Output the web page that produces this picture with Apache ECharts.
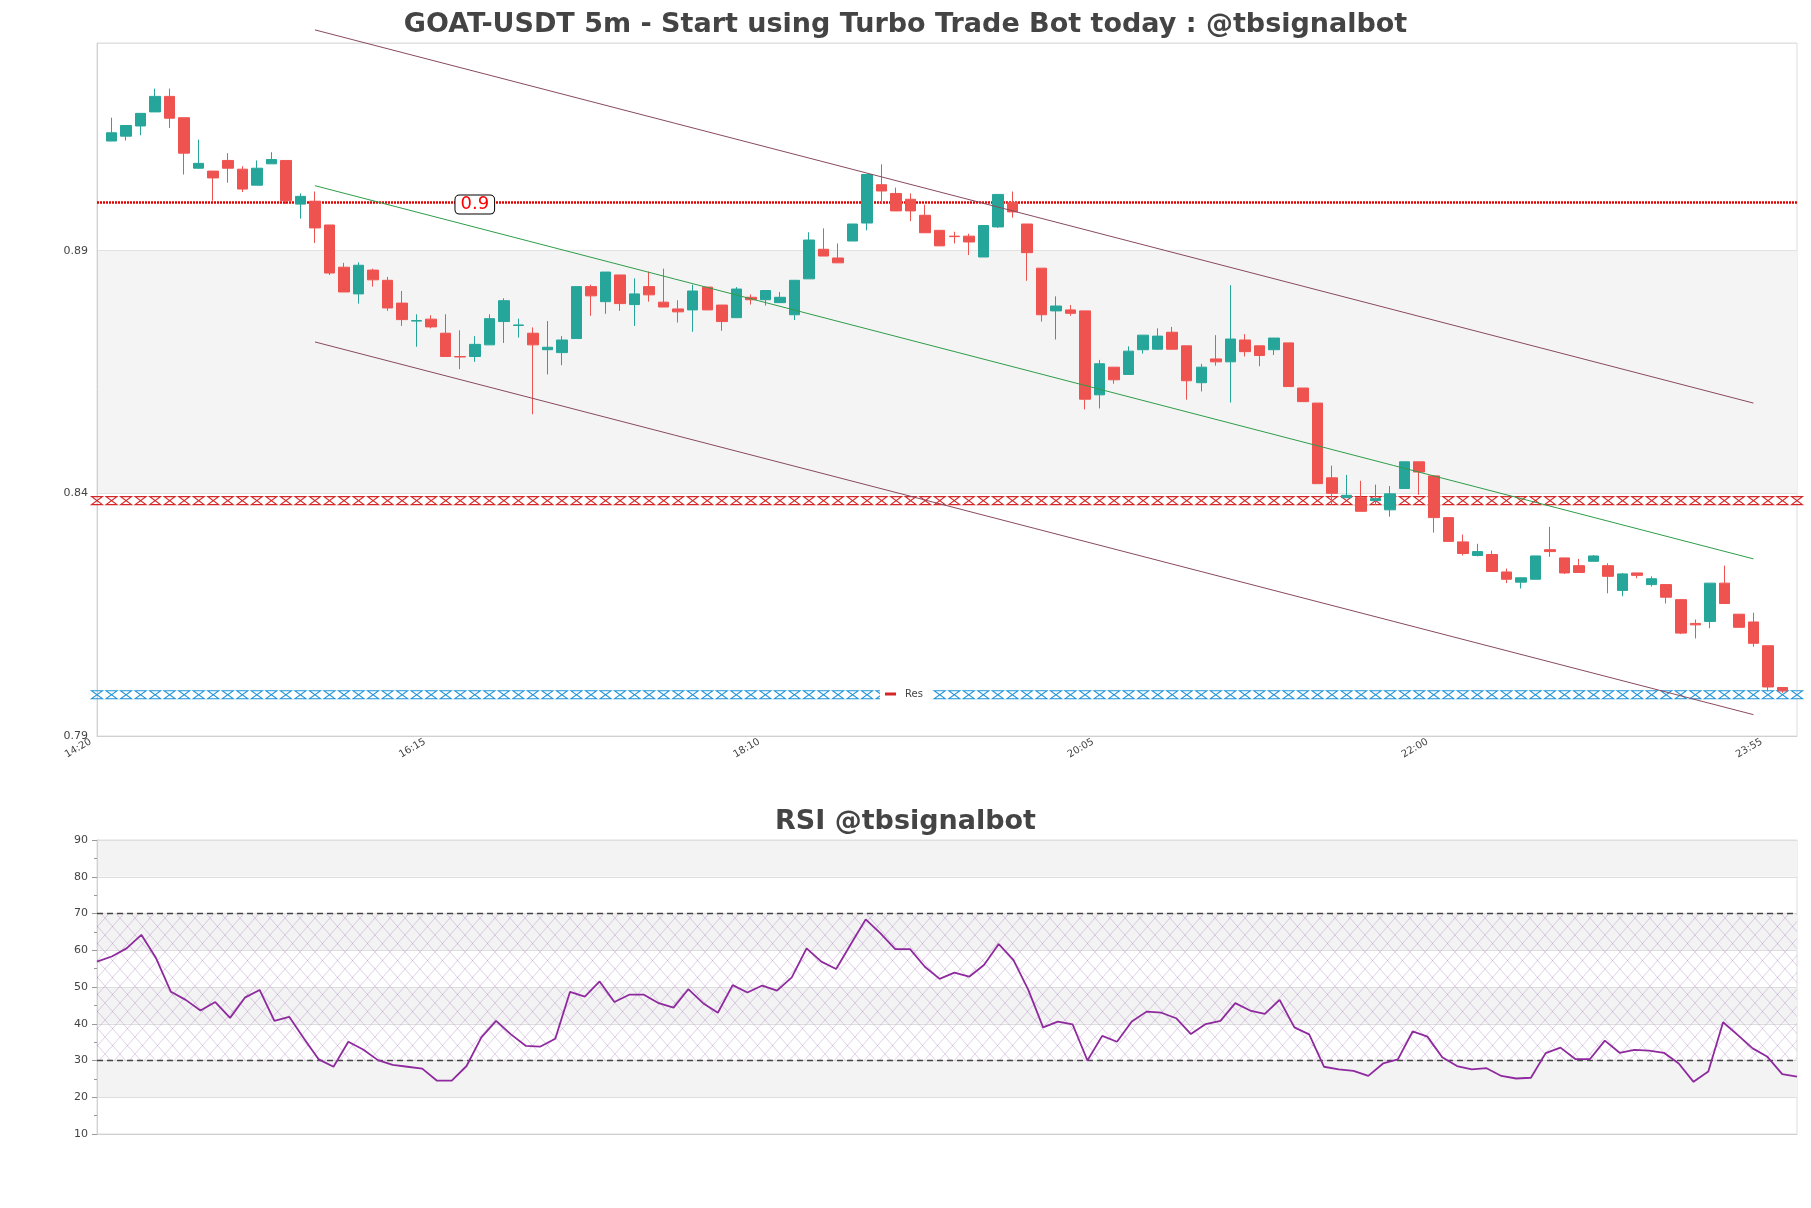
<!DOCTYPE html>
<html>
<head>
<meta charset="utf-8">
<script src="https://cdn.jsdelivr.net/npm/echarts@6/dist/echarts.min.js"></script>
<style>
  html, body { margin: 0; padding: 0; background: #ffffff; }
  #chart { width: 1811px; height: 1208px; }
</style>
</head>
<body>
<div id="chart"></div>
<script>
// ---------------- data ----------------
const startTime = '14:20';
const stepMinutes = 5;
const tickLabels = ['14:20', '16:15', '18:10', '20:05', '22:00', '23:55'];

const opens = [0.9126,0.9136,0.9157,0.9186,0.9218,0.9174,0.9070,0.9064,0.9086,0.9068,
0.9035,0.9079,0.9086,0.8996,0.9002,0.8953,0.8866,0.8811,0.8860,0.8839,
0.8792,0.8755,0.8759,0.8730,0.8682,0.8682,0.8706,0.8754,0.8746,0.8730,
0.8696,0.8690,0.8719,0.8826,0.8795,0.8850,0.8789,0.8826,0.8794,0.8780,
0.8778,0.8825,0.8788,0.8762,0.8804,0.8799,0.8793,0.8768,0.8842,0.8903,
0.8885,0.8920,0.8957,0.9036,0.9018,0.9006,0.8973,0.8942,0.8930,0.8930,
0.8887,0.8949,0.8999,0.8955,0.8864,0.8776,0.8778,0.8776,0.8603,0.8660,
0.8645,0.8696,0.8697,0.8732,0.8704,0.8628,0.8677,0.8671,0.8716,0.8704,
0.8696,0.8710,0.8617,0.8586,0.8432,0.8391,0.8391,0.8385,0.8366,0.8410,
0.8465,0.8436,0.8350,0.8300,0.8272,0.8274,0.8238,0.8217,0.8223,0.8284,
0.8267,0.8251,0.8260,0.8251,0.8200,0.8236,0.8212,0.8212,0.8181,0.8132,
0.8136,0.8215,0.8151,0.8135,0.8086,0.8000];
const highs = [0.9174,0.9159,0.9183,0.9234,0.9234,0.9174,0.9129,0.9064,0.9101,0.9074,
0.9086,0.9103,0.9086,0.9018,0.9022,0.8953,0.8875,0.8876,0.8863,0.8846,
0.8817,0.8769,0.8767,0.8769,0.8736,0.8724,0.8769,0.8802,0.8760,0.8742,
0.8755,0.8724,0.8826,0.8830,0.8856,0.8850,0.8843,0.8857,0.8863,0.8798,
0.8830,0.8825,0.8788,0.8825,0.8810,0.8818,0.8815,0.8839,0.8938,0.8946,
0.8915,0.8955,0.9057,0.9078,0.9030,0.9018,0.8995,0.8942,0.8939,0.8935,
0.8952,0.9016,0.9022,0.8955,0.8864,0.8806,0.8788,0.8776,0.8675,0.8660,
0.8703,0.8726,0.8740,0.8743,0.8704,0.8667,0.8726,0.8829,0.8728,0.8704,
0.8720,0.8710,0.8617,0.8586,0.8457,0.8438,0.8426,0.8418,0.8415,0.8465,
0.8465,0.8436,0.8350,0.8315,0.8296,0.8282,0.8245,0.8226,0.8271,0.8331,
0.8267,0.8265,0.8273,0.8256,0.8236,0.8236,0.8229,0.8212,0.8181,0.8140,
0.8215,0.8251,0.8151,0.8154,0.8086,0.8000];
const lows = [0.9126,0.9127,0.9138,0.9186,0.9153,0.9057,0.9069,0.9003,0.9040,0.9021,
0.9035,0.9079,0.8996,0.8966,0.8916,0.8850,0.8815,0.8791,0.8826,0.8776,
0.8745,0.8702,0.8740,0.8682,0.8656,0.8671,0.8706,0.8710,0.8721,0.8563,
0.8645,0.8664,0.8719,0.8766,0.8770,0.8776,0.8745,0.8795,0.8784,0.8752,
0.8733,0.8778,0.8735,0.8762,0.8789,0.8787,0.8793,0.8757,0.8842,0.8889,
0.8875,0.8920,0.8942,0.8997,0.8982,0.8961,0.8937,0.8910,0.8915,0.8891,
0.8887,0.8947,0.8968,0.8838,0.8754,0.8717,0.8766,0.8573,0.8575,0.8626,
0.8645,0.8688,0.8696,0.8697,0.8593,0.8610,0.8663,0.8587,0.8682,0.8662,
0.8685,0.8620,0.8589,0.8420,0.8376,0.8391,0.8363,0.8376,0.8352,0.8410,
0.8397,0.8319,0.8301,0.8272,0.8270,0.8239,0.8215,0.8204,0.8223,0.8269,
0.8234,0.8237,0.8260,0.8194,0.8188,0.8225,0.8208,0.8173,0.8110,0.8101,
0.8122,0.8173,0.8124,0.8084,0.7992,0.7989];
const closes = [0.9143,0.9158,0.9183,0.9218,0.9173,0.9101,0.9080,0.9050,0.9070,0.9027,
0.9070,0.9088,0.9003,0.9012,0.8947,0.8854,0.8815,0.8870,0.8840,0.8782,
0.8758,0.8756,0.8743,0.8682,0.8681,0.8707,0.8760,0.8797,0.8747,0.8706,
0.8701,0.8716,0.8826,0.8807,0.8856,0.8791,0.8811,0.8809,0.8784,0.8774,
0.8817,0.8778,0.8754,0.8821,0.8799,0.8818,0.8804,0.8839,0.8922,0.8889,
0.8875,0.8955,0.9057,0.9023,0.8982,0.8982,0.8937,0.8910,0.8929,0.8918,
0.8952,0.9016,0.8980,0.8896,0.8768,0.8786,0.8771,0.8594,0.8667,0.8634,
0.8693,0.8726,0.8724,0.8697,0.8632,0.8660,0.8671,0.8718,0.8692,0.8684,
0.8720,0.8620,0.8589,0.8420,0.8400,0.8396,0.8363,0.8389,0.8399,0.8465,
0.8444,0.8350,0.8301,0.8276,0.8280,0.8239,0.8223,0.8226,0.8271,0.8280,
0.8236,0.8237,0.8271,0.8229,0.8234,0.8231,0.8224,0.8186,0.8112,0.8129,
0.8215,0.8173,0.8124,0.8091,0.8001,0.7993];

const rsi = [56.9,58.3,60.5,64.2,57.8,48.7,46.5,43.6,45.9,41.6,
47.1,49.2,40.8,41.9,36.0,30.3,28.3,35.1,33.0,30.1,
28.8,28.3,27.8,24.5,24.5,28.5,36.3,40.8,37.1,34.0,
33.8,35.9,48.7,47.4,51.5,45.9,47.9,47.9,45.6,44.4,
49.4,45.6,43.0,50.5,48.5,50.4,49.0,52.6,60.5,56.9,
54.9,61.7,68.4,64.6,60.3,60.3,55.5,52.2,53.9,52.8,
56.0,61.7,57.3,49.2,39.0,40.6,39.8,30.0,36.7,35.1,
40.6,43.3,43.0,41.5,37.2,39.9,40.8,45.6,43.6,42.7,
46.5,39.0,37.1,28.3,27.6,27.2,25.8,29.2,30.3,37.9,
36.5,30.9,28.5,27.6,27.9,25.8,25.1,25.3,32.0,33.5,
30.4,30.4,35.4,32.1,32.9,32.7,32.1,29.2,24.2,27.0,
40.4,36.9,33.3,31.0,26.3,25.6];

const resLevel = 0.8995;       // dotted red line, labelled 0.9
const resLabel = '0.9';
const resLabelTime = '16:25';
const redZoneLevel = 0.8385;   // "Res" patterned line
const blueZoneLevel = 0.7985;  // blue patterned line
const channelIdx = [14, 113];  // candle indices of channel ends
const channelUpper = [0.9355, 0.8586];
const channelMid = [0.9034, 0.8265];
const channelLower = [0.8712, 0.7944];
const rsiLevels = [30, 70];

// ---------------- build ----------------
function buildTimes(start, n, step) {
  const [h, m] = start.split(':').map(Number);
  const out = [];
  for (let i = 0; i < n; i++) {
    const t = h * 60 + m + i * step;
    const hh = Math.floor(t / 60) % 24, mm = t % 60;
    out.push(String(hh).padStart(2, '0') + ':' + String(mm).padStart(2, '0'));
  }
  return out;
}
const times = buildTimes(startTime, opens.length, stepMinutes);
const xCats = [''].concat(times, ['']);   // padded ends
const empty = ['-', '-', '-', '-'];
const candleData = [empty].concat(times.map((_, i) => [opens[i], closes[i], lows[i], highs[i]]), [empty]);
const levelLine = v => xCats.map(() => v);
const channel = vals => [[channelIdx[0] + 1, vals[0]], [channelIdx[1] + 1, vals[1]]];

function hatchCanvas() {
  const c = document.createElement('canvas');
  c.width = 15; c.height = 17;
  const g = c.getContext('2d');
  g.strokeStyle = 'rgba(150,100,175,0.30)';
  g.lineWidth = 1;
  g.beginPath();
  g.moveTo(0, 0); g.lineTo(15, 17);
  g.moveTo(15, 0); g.lineTo(0, 17);
  g.stroke();
  return c;
}

const hourglass = 'path://M0,0 L10,0 L0,8 L10,8 Z';
const FONT = 'DejaVu Sans';

const chart = echarts.init(document.getElementById('chart'), null, { renderer: 'canvas' });
chart.setOption({
  animation: false,
  backgroundColor: '#ffffff',
  textStyle: { fontFamily: FONT },
  title: [
    { text: 'GOAT-USDT 5m - Start using Turbo Trade Bot today : @tbsignalbot', left: 'center', top: 6,
      textStyle: { fontFamily: FONT, fontSize: 27, fontWeight: 'bold', color: '#444444' } },
    { text: 'RSI @tbsignalbot', left: 'center', top: 803,
      textStyle: { fontFamily: FONT, fontSize: 27, fontWeight: 'bold', color: '#444444' } }
  ],
  legend: {
    data: [{ name: 'Res', icon: 'rect', itemStyle: { color: '#d62728', borderWidth: 0 } }],
    left: 880, top: 688, itemWidth: 11, itemHeight: 3,
    padding: [1, 9, 1, 5], backgroundColor: '#ffffff', selectedMode: false,
    textStyle: { fontFamily: FONT, fontSize: 10, color: '#444444', padding: [0, 0, 0, 4] }
  },
  grid: [
    { left: 97, top: 43, width: 1700, height: 693, show: true, borderColor: '#dddddd', borderWidth: 1 },
    { left: 97, top: 840, width: 1700, height: 294, show: true, borderColor: '#dddddd', borderWidth: 1 }
  ],
  xAxis: [
    { type: 'category', gridIndex: 0, data: xCats, boundaryGap: false,
      axisLine: { lineStyle: { color: '#d0d0d0' } }, axisTick: { show: false }, splitLine: { show: false },
      axisLabel: { interval: (idx, val) => tickLabels.indexOf(val) >= 0, rotate: 30, fontSize: 10,
        color: '#444444', fontFamily: FONT, margin: -7, padding: [0, 24, 0, 0] } },
    { type: 'category', gridIndex: 1, data: times, boundaryGap: false,
      axisLine: { lineStyle: { color: '#d0d0d0' } }, axisTick: { show: false }, axisLabel: { show: false },
      splitLine: { show: false } }
  ],
  yAxis: [
    { type: 'value', gridIndex: 0, min: 0.79, max: 0.9328, interval: 0.05,
      axisLine: { show: true, lineStyle: { color: '#d0d0d0' } }, axisTick: { show: false },
      axisLabel: { fontSize: 11, color: '#444444', margin: 9, showMaxLabel: false, fontFamily: FONT,
        formatter: v => v.toFixed(2) },
      splitLine: { show: true, lineStyle: { color: '#e2e2e2' } },
      splitArea: { show: true, areaStyle: { color: ['rgba(255,255,255,0)', '#f4f4f4'] } } },
    { type: 'value', gridIndex: 1, min: 10, max: 90, interval: 10,
      axisLine: { show: true, lineStyle: { color: '#d0d0d0' } },
      axisTick: { show: true, length: 5, lineStyle: { color: '#999999' } },
      minorTick: { show: true, splitNumber: 2, length: 3, lineStyle: { color: '#999999' } },
      axisLabel: { fontSize: 11, color: '#444444', margin: 9, fontFamily: FONT },
      splitLine: { show: true, lineStyle: { color: '#dedede' } },
      splitArea: { show: true, areaStyle: { color: ['rgba(255,255,255,0)', '#f3f3f4'] } } }
  ],
  series: [
    { name: 'Res', type: 'line', xAxisIndex: 0, yAxisIndex: 0, z: 1,
      data: levelLine(redZoneLevel), symbol: hourglass, symbolSize: [11, 8], showSymbol: true, showAllSymbol: true,
      lineStyle: { opacity: 0 }, itemStyle: { color: 'rgba(0,0,0,0)', borderColor: '#d62728', borderWidth: 1.2 },
      emphasis: { disabled: true }, silent: true },
    { name: 'Sup', type: 'line', xAxisIndex: 0, yAxisIndex: 0, z: 1,
      data: levelLine(blueZoneLevel), symbol: hourglass, symbolSize: [11, 8], showSymbol: true, showAllSymbol: true,
      lineStyle: { opacity: 0 }, itemStyle: { color: 'rgba(0,0,0,0)', borderColor: '#1f93d8', borderWidth: 1.2 },
      emphasis: { disabled: true }, silent: true },
    { name: 'Price', type: 'candlestick', xAxisIndex: 0, yAxisIndex: 0, z: 3,
      data: candleData, barWidth: 11,
      itemStyle: { color: '#26a69a', color0: '#ef5350', borderColor: '#26a69a', borderColor0: '#ef5350', borderWidth: 1 },
      markLine: { z: 2, silent: true, symbol: 'none', animation: false,
        data: [{ yAxis: resLevel }], label: { show: false },
        lineStyle: { color: '#e00000', width: 2.5, type: [2, 1] } },
      markPoint: { z: 10, silent: true, symbol: 'rect', symbolSize: 0, animation: false,
        data: [{ coord: [resLabelTime, resLevel], value: resLabel }],
        label: { show: true, position: 'inside', formatter: resLabel, color: '#ff0000', fontSize: 18,
          fontFamily: FONT, backgroundColor: '#ffffff', borderColor: '#000000', borderWidth: 1,
          borderRadius: 4, padding: [0, 5], lineHeight: 18 } } },
    { name: 'Upper', type: 'line', xAxisIndex: 0, yAxisIndex: 0, z: 5, clip: false,
      data: channel(channelUpper), symbol: 'none', lineStyle: { color: '#884a5e', width: 1 } },
    { name: 'Mid', type: 'line', xAxisIndex: 0, yAxisIndex: 0, z: 5, clip: false,
      data: channel(channelMid), symbol: 'none', lineStyle: { color: '#2e9d4a', width: 1 } },
    { name: 'Lower', type: 'line', xAxisIndex: 0, yAxisIndex: 0, z: 5, clip: false,
      data: channel(channelLower), symbol: 'none', lineStyle: { color: '#884a5e', width: 1 } },
    { name: 'RSI', type: 'line', xAxisIndex: 1, yAxisIndex: 1, z: 5,
      data: rsi, symbol: 'none', lineStyle: { color: '#8e2a9e', width: 1.8 },
      markArea: { silent: true, z: 1,
        itemStyle: { color: { image: hatchCanvas(), repeat: 'repeat' } },
        data: [[{ yAxis: rsiLevels[0] }, { yAxis: rsiLevels[1] }]] },
      markLine: { silent: true, symbol: 'none', label: { show: false },
        lineStyle: { color: '#444444', width: 1.3, type: [6, 4] },
        data: rsiLevels.map(v => ({ yAxis: v })) } }
  ]
});
</script>
</body>
</html>
